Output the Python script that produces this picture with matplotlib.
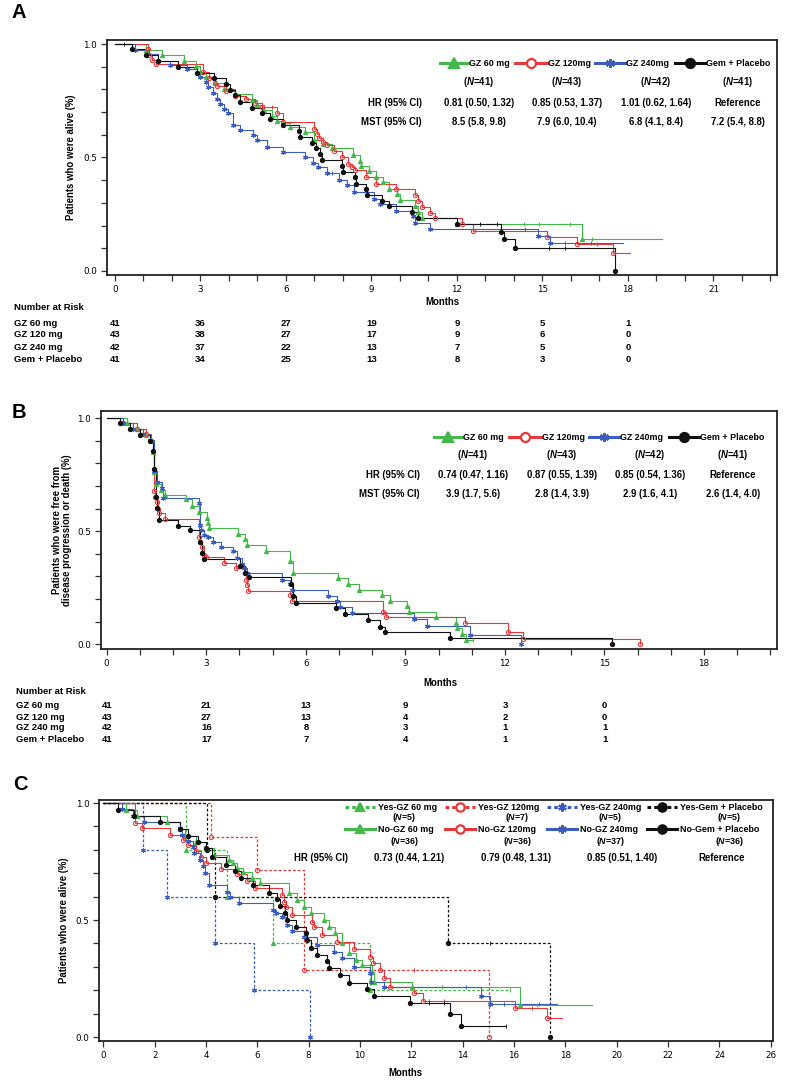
import matplotlib
matplotlib.use('Agg')
import matplotlib.pyplot as plt
from matplotlib.lines import Line2D
from matplotlib import font_manager as fm
import numpy as np

# ---------------- DATA ----------------
# Panel A: overall survival (event times in months, survival after event)
A_gz60_t = [1.1, 1.64, 2.43, 2.83, 2.98, 3.2, 3.5, 3.84, 4.2, 4.8, 5.0, 5.23, 5.5, 5.7, 5.88, 6.14, 6.67, 6.98, 7.3, 7.6,
            8.36, 8.6, 8.65, 8.9, 9.16, 9.4, 9.63, 9.88, 10.0, 10.53, 10.64, 10.76, 12.0, 16.4]
A_gz60_s = [.976, .951, .927, .902, .878, .854, .829, .804, .78, .753, .73, .709, .685, .66, .65, .635, .613, .576, .558, .54,
            .51, .486, .462, .44, .415, .39, .363, .339, .313, .286, .261, .232, .207, .14]
A_gz60_c = [8.4, 14.35, 14.88, 15.96, 16.75]
A_gz60_end = 19.2

A_gz120_t = [1.16, 1.2, 1.29, 1.44, 3.1, 3.3, 3.5, 3.57, 3.9, 4.21, 4.6, 4.91, 5.17, 5.67, 5.88, 7.0, 7.08, 7.17, 7.29, 7.43,
             7.7, 7.95, 8.19, 8.3, 8.42, 8.8, 9.16, 9.86, 10.53, 10.62, 10.76, 11.05, 11.23, 12.16, 12.57, 15.15, 16.2, 17.48]
A_gz120_s = [.977, .951, .932, .91, .875, .852, .83, .815, .793, .772, .756, .741, .724, .697, .657, .624, .603, .588, .569, .554,
             .53, .503, .473, .459, .444, .415, .385, .36, .335, .31, .283, .257, .232, .207, .178, .151, .119, .081]
A_gz120_c = [5.5, 16.9]
A_gz120_end = 18.07

A_gz240_t = [0.7, 1.11, 1.52, 1.93, 2.51, 2.87, 2.98, 3.19, 3.27, 3.45, 3.57, 3.68, 3.84, 3.95, 4.13, 4.39, 4.85, 4.97, 5.32, 5.91,
             6.67, 6.96, 7.13, 7.43, 7.87, 8.13, 8.39, 9.09, 9.3, 9.86, 10.47, 10.53, 11.05, 14.83, 15.26]
A_gz240_s = [.976, .956, .926, .907, .888, .874, .856, .831, .809, .785, .76, .738, .712, .694, .643, .62, .599, .576, .547, .525,
             .503, .476, .459, .43, .403, .378, .349, .319, .297, .266, .243, .213, .184, .156, .122]
A_gz240_c = [7.6, 14.4, 15.8, 16.7]
A_gz240_end = 17.84

A_gem_t = [0.58, 1.08, 1.52, 2.2, 2.87, 3.49, 3.89, 4.04, 4.21, 4.39, 4.8, 5.17, 5.44, 5.88, 6.47, 6.49, 6.9, 7.04, 7.19, 7.25,
           7.95, 8.01, 8.42, 8.45, 8.8, 8.83, 9.36, 9.63, 10.43, 10.64, 12.01, 13.54, 13.65, 14.04, 17.55]
A_gem_s = [.978, .951, .925, .9, .874, .849, .824, .797, .775, .746, .719, .694, .668, .643, .618, .591, .566, .54, .515, .49,
           .463, .437, .412, .385, .36, .334, .309, .285, .26, .232, .207, .172, .14, .103, 0.0]
A_gem_c = [0.3, 12.8, 13.4, 15.24, 15.8]
A_gem_end = 17.55

# Panel B: progression-free survival
B_gz60_t = [0.6, 0.9, 1.2, 1.35, 1.4, 1.43, 1.5, 1.63, 1.76, 2.39, 2.56, 2.79, 3.01, 3.06, 3.09, 3.97, 4.17, 4.22, 4.8, 5.52,
            5.6, 6.98, 7.28, 7.61, 8.31, 8.53, 9.04, 9.11, 9.92, 10.54, 10.56, 10.72, 10.82]
B_gz60_s = [.976, .951, .927, .902, .85, .76, .71, .683, .661, .64, .612, .583, .558, .535, .513, .487, .465, .44, .414, .366,
            .317, .295, .267, .24, .218, .193, .167, .144, .119, .093, .07, .046, .019]
B_gz60_c = [11.04]
B_gz60_end = 11.04

B_gz120_t = [0.5, 0.9, 1.2, 1.35, 1.43, 1.46, 1.51, 1.55, 1.59, 1.76, 2.79, 2.81, 2.86, 2.93, 2.99, 3.53, 3.91, 4.16, 4.2, 4.22,
             4.27, 5.52, 5.57, 8.34, 8.43, 10.79, 12.1, 12.55, 16.06]
B_gz120_s = [.977, .953, .93, .9, .676, .653, .627, .6, .58, .553, .476, .454, .432, .395, .385, .361, .336, .314, .285, .263,
             .237, .218, .189, .142, .119, .096, .052, .022, 0.0]
B_gz120_c = []
B_gz120_end = 16.06

B_gz240_t = [0.5, 0.8, 1.1, 1.3, 1.43, 1.51, 1.66, 1.7, 2.79, 2.81, 2.83, 2.93, 3.06, 3.21, 3.46, 3.8, 3.94, 4.07, 4.14, 4.22,
             5.27, 5.52, 5.57, 6.68, 6.93, 7.03, 7.38, 9.26, 9.64, 10.96, 12.5]
B_gz240_s = [.976, .952, .929, .905, .764, .715, .69, .646, .624, .528, .503, .484, .476, .454, .429, .41, .38, .355, .336, .314,
             .285, .267, .24, .214, .189, .164, .137, .11, .081, .041, 0.0]
B_gz240_c = []
B_gz240_end = 12.5

B_gem_t = [0.4, 0.7, 1.0, 1.3, 1.41, 1.43, 1.49, 1.53, 1.59, 2.16, 2.51, 2.81, 2.86, 2.93, 4.02, 4.17, 4.3, 5.54, 5.6, 5.72,
           6.91, 7.18, 7.88, 8.25, 8.38, 10.34, 15.23]
B_gem_s = [.976, .951, .927, .9, .852, .774, .653, .602, .55, .524, .503, .45, .403, .376, .347, .317, .296, .267, .214, .184,
           .159, .134, .105, .078, .052, .027, 0.0]
B_gem_c = []
B_gem_end = 15.23

# Panel C: survival by subgroup (Yes / No)
C_yes60_t = [3.22, 4.81, 6.63, 10.4]
C_yes60_s = [.8, .6, .4, .2]
C_yes60_c = [15.86]
C_yes60_end = 15.86

C_yes120_t = [4.19, 5.98, 7.8, 15.02]
C_yes120_s = [.857, .714, .286, 0.0]
C_yes120_c = [12.09]
C_yes120_end = 15.02

C_yes240_t = [1.56, 2.47, 4.36, 5.88, 8.06]
C_yes240_s = [.8, .6, .4, .2, 0.0]
C_yes240_c = []
C_yes240_end = 8.06

C_yesgem_t = [4.05, 4.36, 13.43, 17.4]
C_yesgem_s = [.8, .6, .4, 0.0]
C_yesgem_c = [15.08]
C_yesgem_end = 17.4

C_no60_t = [0.9, 1.3, 2.5, 3.0, 3.2, 3.6, 4.0, 4.3, 4.9, 5.07, 5.2, 5.46, 5.8, 6.11, 7.22, 7.54, 7.8, 8.09, 8.58, 8.8,
            9.04, 9.3, 9.56, 9.86, 10.08, 10.47, 10.53, 12.03, 16.25]
C_no60_s = [.972, .944, .917, .889, .861, .833, .806, .778, .757, .742, .721, .707, .68, .657, .614, .585, .557, .528, .5, .47,
            .443, .4, .358, .329, .308, .279, .236, .212, .137]
C_no60_c = [13.2, 16.9]
C_no60_end = 19.05

C_no120_t = [1.24, 1.5, 2.6, 3.1, 3.3, 3.6, 3.8, 4.0, 4.6, 5.2, 5.6, 5.92, 6.96, 7.02, 7.13, 7.35, 8.13, 8.22, 8.52, 9.1,
             9.78, 10.4, 10.5, 10.79, 10.95, 11.18, 12.09, 12.46, 16.03, 17.29]
C_no120_s = [.916, .892, .863, .842, .82, .795, .77, .745, .72, .697, .666, .635, .607, .578, .557, .521, .493, .471, .436, .405,
             .375, .343, .315, .286, .251, .215, .187, .154, .123, .08]
C_no120_c = [12.68, 13.26, 16.71]
C_no120_end = 17.88

C_no240_t = [0.72, 1.14, 1.6, 2.99, 3.05, 3.3, 3.48, 3.55, 3.75, 3.88, 3.97, 4.1, 4.81, 4.94, 5.27, 6.6, 6.74, 6.96, 7.15, 7.35,
             7.83, 8.32, 9.0, 9.3, 9.78, 10.38, 10.43, 10.92, 14.7, 15.07]
C_no240_s = [.973, .946, .919, .892, .865, .838, .811, .785, .756, .731, .702, .65, .621, .6, .571, .543, .528, .514, .479, .454,
             .426, .393, .365, .336, .298, .275, .236, .212, .177, .141]
C_no240_c = [14.14, 15.6, 16.97]
C_no240_end = 17.66

C_nogem_t = [0.59, 1.2, 2.2, 3.0, 3.3, 3.7, 4.0, 4.23, 4.79, 5.14, 5.36, 5.85, 6.44, 6.76, 6.89, 7.09, 7.15, 7.5, 7.91, 7.93,
             8.1, 8.32, 8.71, 8.78, 9.23, 9.56, 10.27, 10.53, 11.94, 13.52, 13.92]
C_nogem_s = [.972, .944, .917, .889, .861, .833, .806, .768, .735, .711, .678, .65, .617, .588, .56, .528, .5, .47, .443, .415,
             .38, .35, .326, .293, .265, .232, .207, .175, .147, .097, .047]
C_nogem_c = [12.68, 13.26, 15.67]
C_nogem_end = 15.67

# Legend / annotation text
group_names = ['GZ 60 mg', 'GZ 120mg', 'GZ 240mg', 'Gem + Placebo']
group_n = [41, 43, 42, 41]
A_hr = ['0.81 (0.50, 1.32)', '0.85 (0.53, 1.37)', '1.01 (0.62, 1.64)', 'Reference']
A_mst = ['8.5 (5.8, 9.8)', '7.9 (6.0, 10.4)', '6.8 (4.1, 8.4)', '7.2 (5.4, 8.8)']
B_hr = ['0.74 (0.47, 1.16)', '0.87 (0.55, 1.39)', '0.85 (0.54, 1.36)', 'Reference']
B_mst = ['3.9 (1.7, 5.6)', '2.8 (1.4, 3.9)', '2.9 (1.6, 4.1)', '2.6 (1.4, 4.0)']
C_yes_names = ['Yes-GZ 60 mg', 'Yes-GZ 120mg', 'Yes-GZ 240mg', 'Yes-Gem + Placebo']
C_no_names = ['No-GZ 60 mg', 'No-GZ 120mg', 'No-GZ 240mg', 'No-Gem + Placebo']
C_yes_n = [5, 7, 5, 5]
C_no_n = [36, 36, 37, 36]
C_hr = ['0.73 (0.44, 1.21)', '0.79 (0.48, 1.31)', '0.85 (0.51, 1.40)', 'Reference']

# Number at risk
risk_labels = ['GZ 60 mg', 'GZ 120 mg', 'GZ 240 mg', 'Gem + Placebo']
A_risk_times = [0, 3, 6, 9, 12, 15, 18]
A_risk = [[41, 36, 27, 19, 9, 5, 1],
          [43, 38, 27, 17, 9, 6, 0],
          [42, 37, 22, 13, 7, 5, 0],
          [41, 34, 25, 13, 8, 3, 0]]
B_risk_times = [0, 3, 6, 9, 12, 15]
B_risk = [[41, 21, 13, 9, 3, 0],
          [43, 27, 13, 4, 2, 0],
          [42, 16, 8, 3, 1, 1],
          [41, 17, 7, 4, 1, 1]]

# ---------------- STYLE ----------------
W, H = 787, 1080
plt.rcParams['font.family'] = ['Liberation Sans', 'DejaVu Sans']
plt.rcParams['mathtext.fontset'] = 'custom'
plt.rcParams['mathtext.it'] = 'Liberation Sans:bold:italic'
plt.rcParams['mathtext.rm'] = 'Liberation Sans:bold'

avail = {f.name for f in fm.fontManager.ttflist}
NARROW = 'Liberation Sans Narrow' if 'Liberation Sans Narrow' in avail else 'Liberation Sans'
NARROW_SIZE = 8.0 if NARROW == 'Liberation Sans Narrow' else 6.8

TXT = 6.9
LEG = 6.4
GREEN = '#45b84c'
RED = '#e8383b'
BLUE = '#3d5cbf'
BLACK = '#111111'
COLS = [GREEN, RED, BLUE, BLACK]
MARKS = ['^', 'o', (6, 2, 0), 'o']
MFCS = [GREEN, 'none', BLUE, BLACK]

fig = plt.figure(figsize=(W / 100, H / 100), dpi=100)


def fx(px):
    return px / W


def fy(py):
    return 1 - py / H


def make_ax(l, r, t, b):
    return fig.add_axes([fx(l), fy(b), (r - l) / W, (b - t) / H])


def surv_at(t, s, x):
    v = 1.0
    for ti, si in zip(t, s):
        if ti <= x:
            v = si
    return v


def draw_km(ax, t, s, cens, end, i, ls='-', lw=0.8):
    c = COLS[i]
    xs = [0] + list(t) + [end]
    ys = [1.0] + list(s) + [s[-1]]
    ax.plot(xs, ys, drawstyle='steps-post', color=c, lw=lw, ls=ls, zorder=2)
    ms = 3.0 if i != 2 else 3.6
    ax.plot(t, s, ls='none', marker=MARKS[i], ms=ms, mfc=MFCS[i], mec=c, mew=0.8, zorder=3)
    if cens:
        ax.plot(cens, [surv_at(t, s, x) for x in cens], ls='none', marker='|', ms=3.5,
                mec=c, mew=0.7, zorder=3)


def style_ax(ax, xlim, ylim, xmaj, xmin):
    ax.set_xlim(*xlim)
    ax.set_ylim(*ylim)
    for sp in ax.spines.values():
        sp.set_linewidth(1.3)
        sp.set_color('#222222')
    ax.set_yticks([0.0, 0.5, 1.0])
    ax.set_yticklabels(['0.0', '0.5', '1.0'])
    ax.set_yticks(np.arange(0, 1.001, 0.1), minor=True)
    ax.set_xticks(xmaj)
    ax.set_xticklabels([str(v) for v in xmaj])
    if xmin is not None:
        ax.set_xticks(xmin, minor=True)
    ax.tick_params(which='both', direction='out', length=4.5, width=0.9, color='#333333')
    ax.tick_params(which='major', labelsize=6.3, pad=2.5)
    for lab in ax.get_xticklabels() + ax.get_yticklabels():
        lab.set_family('DejaVu Sans')


def ftext(px, py, s, size=TXT, ha='left', va='center', weight='bold', family=None, **kw):
    fig.text(fx(px), fy(py), s, ha=ha, va=va, fontsize=size, fontweight=weight,
             family=family if family else ['Liberation Sans', 'DejaVu Sans'], **kw)


def leg_handle(x0, x1, y, i, ls='-', lw=2.2, ms=6.5):
    c = COLS[i]
    fig.add_artist(Line2D([fx(x0), fx(x1)], [fy(y), fy(y)], color=c, lw=lw, ls=ls))
    fig.add_artist(Line2D([fx((x0 + x1) / 2)], [fy(y)], ls='none', marker=MARKS[i], ms=ms,
                          mfc=MFCS[i] if MFCS[i] != 'none' else 'white', mec=c, mew=1.6))


# ---------------- PANEL A ----------------
axA = make_ax(107, 777, 40, 275)
draw_km(axA, A_gz60_t, A_gz60_s, A_gz60_c, A_gz60_end, 0)
draw_km(axA, A_gz120_t, A_gz120_s, A_gz120_c, A_gz120_end, 1)
draw_km(axA, A_gz240_t, A_gz240_s, A_gz240_c, A_gz240_end, 2)
draw_km(axA, A_gem_t, A_gem_s, A_gem_c, A_gem_end, 3)
style_ax(axA, (-0.28, 23.23), (-0.018, 1.018), list(range(0, 22, 3)), list(range(0, 24)))
axA.set_ylabel('Patients who were alive (%)', fontsize=TXT, fontweight='bold', labelpad=5)
ftext(442, 302, 'Months', ha='center')
ftext(11, 13, 'A', size=14.5)

A_leg = [(440, 468), (515, 547), (595, 625), (675, 705)]
A_cols = [479, 567, 656, 738]
for i in range(4):
    leg_handle(A_leg[i][0], A_leg[i][1], 63, i)
    ftext(A_leg[i][1] + 1, 63, group_names[i], size=LEG)
    ftext(A_cols[i], 82, r'($\it{N}$=%d)' % group_n[i], ha='center')
    ftext(A_cols[i], 103, A_hr[i], ha='center')
    ftext(A_cols[i], 122, A_mst[i], ha='center')
ftext(422, 103, 'HR (95% CI)', ha='right')
ftext(422, 122, 'MST (95% CI)', ha='right')

ftext(14, 308, 'Number at Risk', size=NARROW_SIZE, family=[NARROW, 'DejaVu Sans'])
A_rows = [323, 335, 347, 359]
for r in range(4):
    ftext(14, A_rows[r], risk_labels[r], size=NARROW_SIZE, family=[NARROW, 'DejaVu Sans'])
    for k, tm in enumerate(A_risk_times):
        ftext(115 + tm * 28.5, A_rows[r], str(A_risk[r][k]), size=NARROW_SIZE, ha='center',
              family=[NARROW, 'DejaVu Sans'])

# ---------------- PANEL B ----------------
axB = make_ax(100.7, 777, 411, 649)
draw_km(axB, B_gz60_t, B_gz60_s, B_gz60_c, B_gz60_end, 0)
draw_km(axB, B_gz120_t, B_gz120_s, B_gz120_c, B_gz120_end, 1)
draw_km(axB, B_gz240_t, B_gz240_s, B_gz240_c, B_gz240_end, 2)
draw_km(axB, B_gem_t, B_gem_s, B_gem_c, B_gem_end, 3)
style_ax(axB, (-0.18, 20.2), (-0.021, 1.031), list(range(0, 19, 3)), list(range(0, 21)))
axB.set_ylabel('Patients who were free from\ndisease progression or death (%)', fontsize=TXT,
               fontweight='bold', labelpad=4, linespacing=1.0)
ftext(440, 683, 'Months', ha='center')
ftext(12, 412, 'B', size=14.5)

B_cols = [473, 562, 650, 733]
for i in range(4):
    leg_handle(A_leg[i][0] - 6, A_leg[i][1] - 6, 437, i)
    ftext(A_leg[i][1] - 5, 437, group_names[i], size=LEG)
    ftext(B_cols[i], 455, r'($\it{N}$=%d)' % group_n[i], ha='center')
    ftext(B_cols[i], 475, B_hr[i], ha='center')
    ftext(B_cols[i], 494, B_mst[i], ha='center')
ftext(420, 475, 'HR (95% CI)', ha='right')
ftext(420, 494, 'MST (95% CI)', ha='right')

ftext(16, 691, 'Number at Risk', size=6.8)
B_rows = [705, 717, 728, 740]
for r in range(4):
    ftext(16, B_rows[r], risk_labels[r], size=6.8)
    for k, tm in enumerate(B_risk_times):
        ftext(106.7 + tm * 33.2, B_rows[r], str(B_risk[r][k]), size=6.8, ha='center')

# ---------------- PANEL C ----------------
axC = make_ax(99.3, 773.3, 800, 1041)
C_yes = [(C_yes60_t, C_yes60_s, C_yes60_c, C_yes60_end), (C_yes120_t, C_yes120_s, C_yes120_c, C_yes120_end),
         (C_yes240_t, C_yes240_s, C_yes240_c, C_yes240_end), (C_yesgem_t, C_yesgem_s, C_yesgem_c, C_yesgem_end)]
C_no = [(C_no60_t, C_no60_s, C_no60_c, C_no60_end), (C_no120_t, C_no120_s, C_no120_c, C_no120_end),
        (C_no240_t, C_no240_s, C_no240_c, C_no240_end), (C_nogem_t, C_nogem_s, C_nogem_c, C_nogem_end)]
for i in range(4):
    t, s, c, e = C_yes[i]
    draw_km(axC, t, s, c, e, i, ls=(0, (2.2, 1.6)), lw=0.9)
for i in range(4):
    t, s, c, e = C_no[i]
    draw_km(axC, t, s, c, e, i)
style_ax(axC, (-0.156, 26.1), (-0.017, 1.013), list(range(0, 27, 2)), None)
axC.set_ylabel('Patients who were alive (%)', fontsize=TXT, fontweight='bold', labelpad=5)
ftext(405, 1073, 'Months', ha='center')
ftext(13, 785, 'C', size=14.5)

C_leg = [(345, 375), (445, 475), (547, 577), (647, 677)]
C_ncols = [404, 517, 610, 729]
C_hrcols = [409, 516, 622, 722]
for i in range(4):
    leg_handle(C_leg[i][0], C_leg[i][1], 807, i, ls=(0, (1.2, 1.0)), lw=2.2, ms=6)
    ftext(C_leg[i][1] + 3, 807, C_yes_names[i], size=LEG)
    ftext(C_ncols[i], 818, r'($\it{N}$=%d)' % C_yes_n[i], size=LEG, ha='center')
    leg_handle(C_leg[i][0], C_leg[i][1], 829, i, ls='-', lw=2.2, ms=6)
    ftext(C_leg[i][1] + 3, 829, C_no_names[i], size=LEG)
    ftext(C_ncols[i], 841, r'($\it{N}$=%d)' % C_no_n[i], size=LEG, ha='center')
    ftext(C_hrcols[i], 858, C_hr[i], ha='center')
ftext(348, 858, 'HR (95% CI)', ha='right')

fig.savefig('out.png', dpi=100)
